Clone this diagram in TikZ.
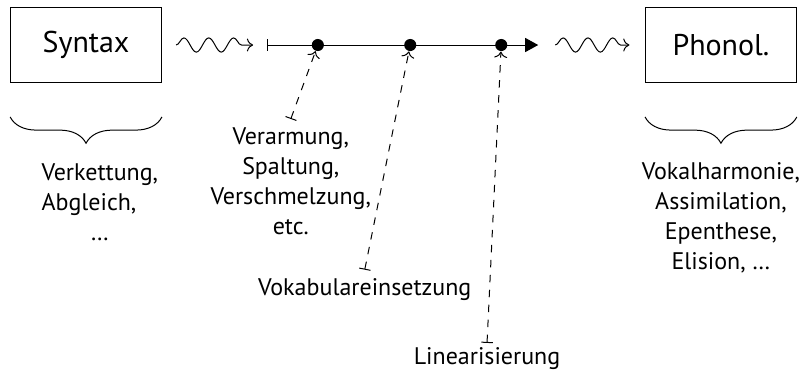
\documentclass[tikz,border=0pt]{standalone}
\usepackage{fontspec}
\setmainfont{PT Sans}
\usetikzlibrary{positioning,arrows.meta,decorations.pathmorphing,decorations.pathreplacing}

\begin{document}
\begin{tikzpicture}[node distance=1cm, every node/.style={font=\fontsize{9.6}{12}\selectfont},
  module/.style={draw,minimum width=2.12cm,minimum height=1.05cm,font=\large},
  wave/.style={->,decorate,decoration={snake,amplitude=0.1cm,segment length=0.35cm,post length=2pt}},
  stage/.style={circle,fill,inner sep=0pt,minimum size=0.17cm},
  gather/.style={decorate,decoration={brace,mirror,amplitude=0.37cm}},
  hook/.style={|->,dashed}]
\useasboundingbox (-1.21,0.633) rectangle (10.07,-4.60);

\node[module] (syntax) {Syntax};
\node[module] (phon) at (8.93,0) {Phonol.};

% Ableitungsstrang
\coordinate (tstart) at (2.55,0);
\coordinate (tend) at (6.36,0);
\draw[|-{Triangle[length=5.2pt,width=5.6pt]}] (tstart) -- (tend);
\node[stage] (d1) at (3.26,0) {};
\node[stage] (d2) at (4.56,0) {};
\node[stage] (d3) at (5.84,0) {};

\draw[wave] ([xshift=2mm]syntax.east) -- ([xshift=-2mm]tstart);
\draw[wave] ([xshift=2.4mm]tend) -- ([xshift=-2.2mm]phon.west);

% Operationen
\node[align=center,anchor=north] (impov) at (2.88,-1.04) {Verarmung,\\Spaltung,\\Verschmelzung,\\etc.};
\node[anchor=north] (vocab) at (3.92,-3.16) {Vokabulareinsetzung};
\node[anchor=north,inner sep=1.5pt] (lin) at (5.64,-4.19) {Linearisierung};

\draw[hook] (impov.north) -- (d1);
\draw[hook] (vocab.north) -- (d2);
\draw[hook] (lin.north) -- (d3);

% Klammern
\draw[gather] ([yshift=-0.48cm]syntax.south west) -- ([yshift=-0.48cm]syntax.south east);
\draw[gather] ([yshift=-0.48cm]phon.south west) -- ([yshift=-0.48cm]phon.south east);

\node[anchor=north west] (synops) at (-0.75,-1.48) {\begin{tabular}{@{}l@{}}Verkettung,\\Abgleich,\\\multicolumn{1}{@{}c@{}}{\dots}\end{tabular}};
\node[align=center,below=1cm of phon] (phonops) {Vokalharmonie,\\Assimilation,\\Epenthese,\\Elision, \dots};
\end{tikzpicture}
\end{document}
